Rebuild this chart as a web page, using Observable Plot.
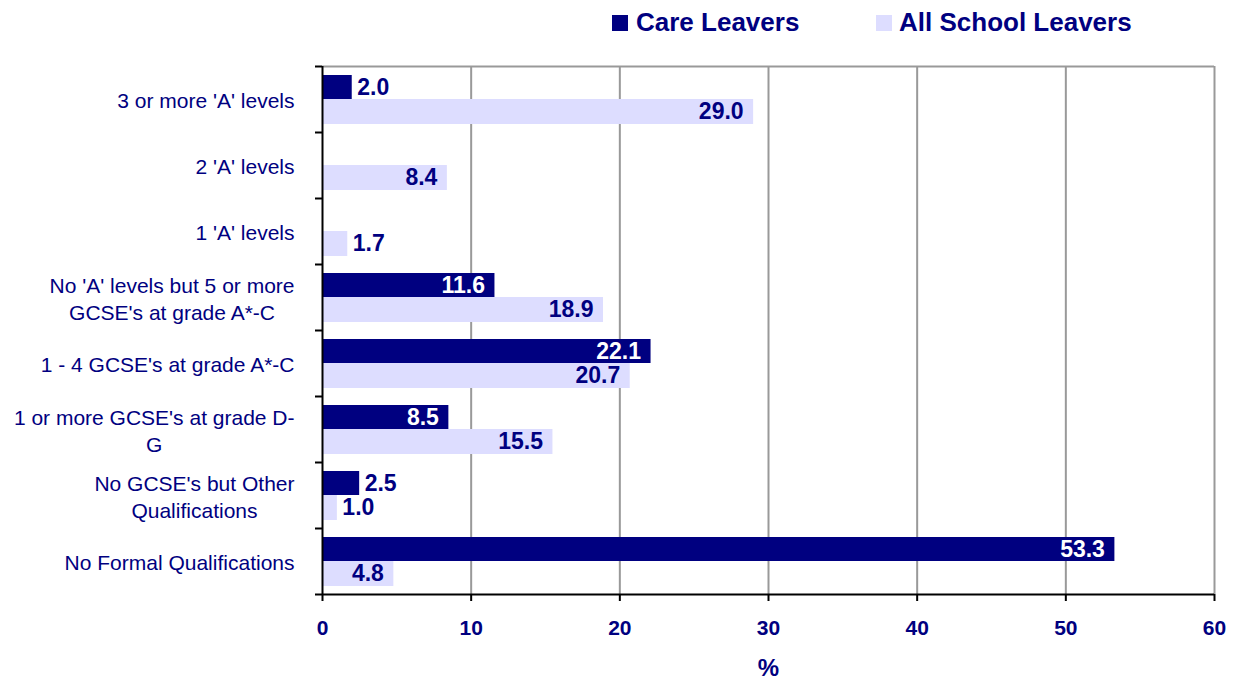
<!DOCTYPE html>
<html>
<head>
<meta charset="utf-8">
<script src="https://cdn.jsdelivr.net/npm/d3@7"></script>
<script src="https://cdn.jsdelivr.net/npm/@observablehq/plot@0.6"></script>
<style>
  html, body { margin: 0; padding: 0; background: #fff; }
  #legend { position: relative; width: 1234px; height: 44px; font: bold 26px "Liberation Sans", Arial, sans-serif; color: #000080; }
  #legend .sw { position: absolute; top: 15px; width: 16px; height: 16px; }
  #legend .lb { position: absolute; top: 9px; line-height: 26px; white-space: nowrap; }
</style>
</head>
<body>
<div id="legend"></div>
<div id="chart"></div>
<script>
const categories = [
  "3 or more 'A' levels",
  "2 'A' levels",
  "1 'A' levels",
  "No 'A' levels but 5 or more GCSE's at grade A*-C",
  "1 - 4 GCSE's at grade A*-C",
  "1 or more GCSE's at grade D-G",
  "No GCSE's but Other Qualifications",
  "No Formal Qualifications"
];
const tickLabels = [
  "3 or more 'A' levels",
  "2 'A' levels",
  "1 'A' levels",
  "No 'A' levels but 5 or more\nGCSE's at grade A*-C",
  "1 - 4 GCSE's at grade A*-C",
  "1 or more GCSE's at grade D-\nG",
  "No GCSE's but Other\nQualifications",
  "No Formal Qualifications"
];
const careLeavers = [2.0, null, null, 11.6, 22.1, 8.5, 2.5, 53.3];
const allSchoolLeavers = [29.0, 8.4, 1.7, 18.9, 20.7, 15.5, 1.0, 4.8];
const seriesNames = ["Care Leavers", "All School Leavers"];
const xTicks = [0, 10, 20, 30, 40, 50, 60];
const axisLabel = "%";

const NAVY = "#000080";
const LIGHT = "#DDDDFF";
const colors = [NAVY, LIGHT];
const FONT = "'Liberation Sans', Arial, sans-serif";

// legend
const legend = document.getElementById("legend");
const legendPos = [[612, 636], [876, 899]];
seriesNames.forEach((name, i) => {
  const sw = document.createElement("span");
  sw.className = "sw";
  sw.style.left = legendPos[i][0] + "px";
  sw.style.background = colors[i];
  legend.appendChild(sw);
  const lb = document.createElement("span");
  lb.className = "lb";
  lb.style.left = legendPos[i][1] + "px";
  lb.textContent = name;
  legend.appendChild(lb);
});

const careData = categories.map((c, i) => ({category: c, value: careLeavers[i]})).filter(d => d.value != null);
const allData = categories.map((c, i) => ({category: c, value: allSchoolLeavers[i]})).filter(d => d.value != null);
const INSIDE = 4;
const fmt = d => d.value.toFixed(1);
const labelStyle = {fontFamily: FONT, fontSize: 23, fontWeight: "bold"};

const chart = Plot.plot({
  width: 1234,
  height: 635,
  marginTop: 22,
  marginBottom: 85,
  marginLeft: 322,
  marginRight: 20,
  style: {fontFamily: FONT, color: NAVY, background: "white"},
  x: {domain: [0, 60]},
  y: {domain: categories, padding: 0},
  marks: [
    // gridlines
    Plot.ruleX(xTicks.slice(1), {stroke: "#999999", strokeWidth: 2}),
    // top border
    Plot.ruleY([categories[0]], {dy: -33, stroke: "#999999", strokeWidth: 2}),
    // bars
    Plot.barX(careData, {x: "value", y: "category", fill: NAVY, insetTop: 9, insetBottom: 33}),
    Plot.barX(allData, {x: "value", y: "category", fill: LIGHT, insetTop: 33, insetBottom: 8}),
    // left axis line and band ticks
    Plot.ruleX([0], {stroke: "black", strokeWidth: 2}),
    Plot.ruleY(categories, {y: d => d, dy: -33, x1: 0, x2: 0, insetLeft: -7, stroke: "black", strokeWidth: 2}),
    Plot.ruleY([categories[categories.length - 1]], {dy: 33, x1: 0, x2: 0, insetLeft: -7, stroke: "black", strokeWidth: 2}),
    // bottom axis line
    Plot.ruleY([categories[categories.length - 1]], {dy: 33, stroke: "black", strokeWidth: 2}),
    // axes
    Plot.axisX({ticks: xTicks, tickSize: 7, tickPadding: 19, stroke: "black", strokeWidth: 2, fill: NAVY,
      fontSize: 21, fontWeight: "bold", fontFamily: FONT, label: null}),
    Plot.axisY({tickSize: 0, tickPadding: 28, fill: NAVY, fontSize: 21, fontFamily: FONT, lineHeight: 1.3,
      tickFormat: d => tickLabels[categories.indexOf(d)], label: null}),
    Plot.text([axisLabel], {frameAnchor: "bottom", dy: 81, fill: NAVY, fontSize: 24, fontWeight: "bold", fontFamily: FONT}),
    // value labels — care leavers
    Plot.text(careData, {filter: d => d.value >= INSIDE, x: "value", y: "category", text: fmt, dy: -12, dx: -10,
      textAnchor: "end", fill: "white", ...labelStyle}),
    Plot.text(careData, {filter: d => d.value < INSIDE, x: "value", y: "category", text: fmt, dy: -12, dx: 5,
      textAnchor: "start", fill: NAVY, ...labelStyle}),
    // value labels — all school leavers
    Plot.text(allData, {filter: d => d.value >= INSIDE, x: "value", y: "category", text: fmt, dy: 12, dx: -10,
      textAnchor: "end", fill: NAVY, ...labelStyle}),
    Plot.text(allData, {filter: d => d.value < INSIDE, x: "value", y: "category", text: fmt, dy: 12, dx: 5,
      textAnchor: "start", fill: NAVY, ...labelStyle})
  ]
});
document.getElementById("chart").appendChild(chart);

// center multi-line category labels within their right-aligned block
chart.querySelectorAll('g[aria-label="y-axis tick label"] text').forEach(text => {
  const spans = text.querySelectorAll("tspan");
  if (spans.length < 2) return;
  let w = 0;
  spans.forEach(s => { w = Math.max(w, s.getComputedTextLength()); });
  const tx = +(text.getAttribute("x") || 0);
  text.setAttribute("text-anchor", "middle");
  spans.forEach(s => s.setAttribute("x", tx - w / 2));
});
</script>
</body>
</html>
